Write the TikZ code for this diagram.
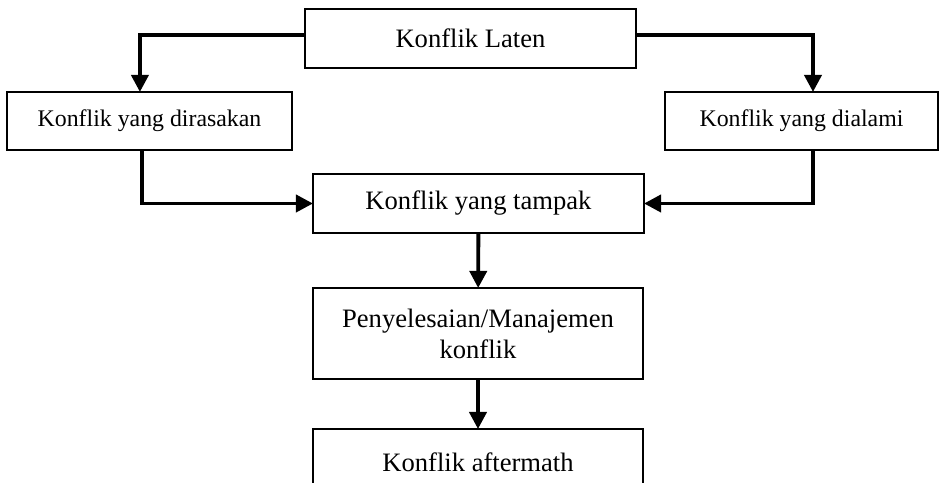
\documentclass[tikz,border=0pt]{standalone}
\usepackage{fontspec}
\setmainfont{Liberation Serif}
\usetikzlibrary{arrows.meta}
\tikzset{
  box/.style={draw, line width=0.6pt, inner sep=0pt, outer sep=0pt, align=center,
    font=\fontsize{12.5}{14.6}\selectfont},
  sidebox/.style={box, font=\fontsize{11.2}{13.4}\selectfont},
  flow/.style={line width=1.8pt, -{Triangle[length=8pt,width=8pt]}}
}
\begin{document}
\begin{tikzpicture}[x=0.47pt,y=-0.47pt]
\useasboundingbox (0,0) rectangle (942,483);
\node[box, minimum width=155.6pt, minimum height=27.7pt] (laten) at (470.5,38.5) {Konflik Laten};
\node[sidebox, minimum width=134pt, minimum height=27.3pt] (rasa) at (149.5,121) {Konflik yang dirasakan};
\node[sidebox, minimum width=128.3pt, minimum height=27.3pt] (alami) at (801.5,121) {Konflik yang dialami};
\node[box, minimum width=155.6pt, minimum height=27.7pt] (tampak) at (478.5,203.5) {Konflik yang tampak};
\node[box, minimum width=155.1pt, minimum height=42.8pt] (selesai) at (478,333.5) {Penyelesaian/Manajemen\\konflik};
\node[box, minimum width=155.1pt, minimum height=31pt] (after) at (478,462) {Konflik aftermath};
% arrows
\draw[flow] ([yshift=1.6pt]laten.west) -| ([xshift=-4.5pt]rasa.north);
\draw[flow] ([yshift=1.6pt]laten.east) -| ([xshift=5.4pt]alami.north);
\draw[flow] ([xshift=-3.7pt]rasa.south) |- (tampak.west);
\draw[flow] ([xshift=5.4pt]alami.south) |- (tampak.east);
\draw[flow] (tampak) -- (selesai);
\draw[flow] (selesai) -- (after);
\end{tikzpicture}
\end{document}
